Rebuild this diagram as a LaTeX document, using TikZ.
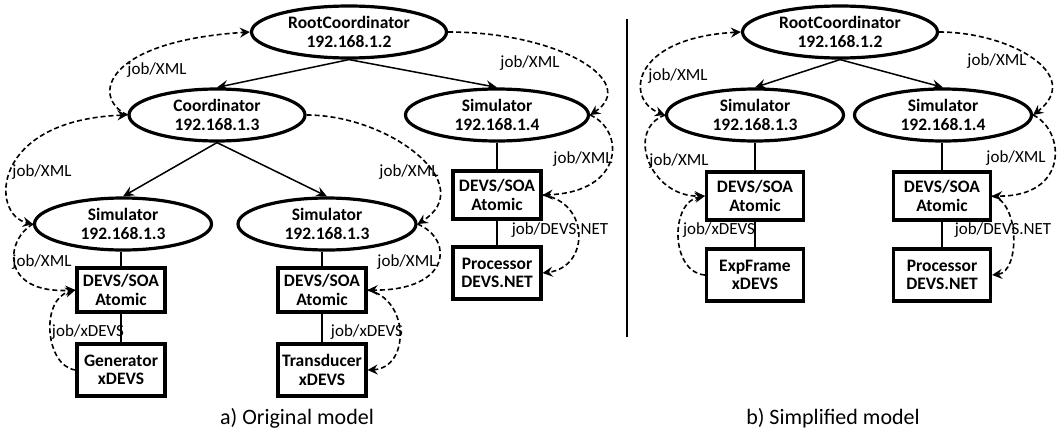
\documentclass[tikz,border=0pt]{standalone}
\usepackage{fontspec}
\setmainfont{Carlito}
\usetikzlibrary{arrows.meta,shapes.geometric}
\begin{document}
\begin{tikzpicture}[x=1pt,y=-1pt,
  nodefont/.style={font=\fontsize{17.5}{18.5}\selectfont\bfseries},
  ell/.style={draw, line width=3.2pt, ellipse, minimum width=#1, minimum height=52pt, inner sep=0pt, align=center, nodefont},
  ell/.default=178pt,
  bx/.style={draw, line width=3.2pt, rectangle, minimum width=88pt, minimum height=#1, inner sep=0pt, align=center, nodefont},
  bxw/.style={bx=#1, minimum width=97pt},
  lb/.style={font=\fontsize{17}{18}\selectfont, inner sep=0pt},
  captext/.style={font=\fontsize{22}{24}\selectfont, inner sep=0pt},
  dl/.style={line width=1.6pt, dash pattern=on 5pt off 3pt},
  da/.style={dl, -{Stealth[length=10pt,width=10pt,inset=3.5pt]}},
  dab/.style={dl, {Stealth[length=10pt,width=10pt,inset=3.5pt]}-{Stealth[length=10pt,width=10pt,inset=3.5pt]}},
  sa/.style={line width=1.5pt, -{Stealth[length=11pt,width=10pt,inset=4pt]}},
  vl/.style={line width=1.3pt}
]
\useasboundingbox (0,0) rectangle (1057,434);

% ---------- left: original model ----------
\node[ell=195pt] (RC1) at (349,32) {RootCoordinator\\192.168.1.2};
\node[ell=176pt] (Coord) at (217,115) {Coordinator\\192.168.1.3};
\node[ell=183pt] (Sim4L) at (497,115) {Simulator\\192.168.1.4};
\node[ell=177pt] (SimA) at (123,224) {Simulator\\192.168.1.3};
\node[ell=178pt] (SimB) at (327,224) {Simulator\\192.168.1.3};
\node[bx=44pt] (AtomA) at (121,290) {DEVS/SOA\\Atomic};
\node[bx=52pt] (Gen) at (121,370) {Generator\\xDEVS};
\node[bx=44pt] (AtomB) at (322,290) {DEVS/SOA\\Atomic};
\node[bx=52pt] (Trans) at (322,370) {Transducer\\xDEVS};
\node[bx=48pt] (AtomC) at (497,195) {DEVS/SOA\\Atomic};
\node[bx=52pt] (Proc) at (497,273) {Processor\\DEVS.NET};

\draw[sa] (RC1.south) -- (Coord.north);
\draw[sa] (RC1.south) -- (Sim4L.north);
\draw[sa] (Coord.south) -- (SimA.north);
\draw[sa] (Coord.south) -- (SimB.north);

\draw[vl] (AtomA.north) -- (AtomA.north |- SimA.south);
\draw[vl] (AtomA.south) -- (Gen.north);
\draw[vl] (AtomB.north) -- (AtomB.north |- SimB.south);
\draw[vl] (AtomB.south) -- (Trans.north);
\draw[vl] (AtomC.north) -- (AtomC.north |- Sim4L.south);
\draw[vl] (AtomC.south) -- (Proc.north);

\draw[da] (Coord.west) .. controls (90,97) and (105,41) .. (RC1.west);
\draw[dab] (Coord.west) .. controls (-10,120) and (-10,215) .. (SimA.west);
\draw[da] (SimA.west) .. controls (5,240) and (0,294) .. (AtomA.west);
\draw[da] (Gen.west) .. controls (45,366) and (40,299) .. (AtomA.west);
\draw[da] (RC1.east) .. controls (560,32) and (640,82) .. (Sim4L.east);
\draw[da] (Coord.east) .. controls (390,115) and (480,185) .. (SimB.east);
\draw[da] (SimB.east) .. controls (455,240) and (450,291) .. (AtomB.east);
\draw[da] (AtomB.east) .. controls (410,299) and (410,368) .. (Trans.east);
\draw[da] (Sim4L.east) .. controls (625,130) and (625,192) .. (AtomC.east);
\draw[da] (AtomC.east) .. controls (590,202) and (590,267) .. (Proc.east);

\node[lb] (l1) at (157,70) {job/XML};
\node[lb] (l2) at (530,63) {job/XML};
\node[lb] (l3) at (42,172) {job/XML};
\node[lb] (l4) at (409,172) {job/XML};
\node[lb] (l5) at (42,262) {job/XML};
\node[lb] (l6) at (407,262) {job/XML};
\node[lb] (l7) at (88,332) {job/xDEVS};
\node[lb] (l8) at (367,332) {job/xDEVS};
\node[lb] (l9) at (583,159) {job/XML};
\node[lb] (l10) at (560,230) {job/DEVS.NET};

\node[captext] (capa) at (297,418) {a) Original model};

% ---------- divider ----------
\coordinate (d1) at (627,19);
\coordinate (d2) at (627,337);
\draw[line width=1.6pt] (d1) -- (d2);

% ---------- right: simplified model ----------
\node[ell=195pt] (RC2) at (840,32) {RootCoordinator\\192.168.1.2};
\node[ell=177pt] (SimR3) at (755,115) {Simulator\\192.168.1.3};
\node[ell=177pt] (SimR4) at (943,115) {Simulator\\192.168.1.4};
\node[bxw=48pt] (AtomR3) at (755,196) {DEVS/SOA\\Atomic};
\node[bxw=52pt] (ExpF) at (755,275) {ExpFrame\\xDEVS};
\node[bxw=48pt] (AtomR4) at (942,196) {DEVS/SOA\\Atomic};
\node[bxw=52pt] (ProcR) at (942,275) {Processor\\DEVS.NET};

\draw[sa] (RC2.south) -- (SimR3.north);
\draw[sa] (RC2.south) -- (SimR4.north);

\draw[vl] (AtomR3.north) -- (AtomR3.north |- SimR3.south);
\draw[vl] (AtomR3.south) -- (ExpF.north);
\draw[vl] (AtomR4.north) -- (AtomR4.north |- SimR4.south);
\draw[vl] (AtomR4.south) -- (ProcR.north);

\draw[dab] (RC2.west) .. controls (630,38) and (625,100) .. (SimR3.west);
\draw[da] (SimR3.west) .. controls (625,130) and (650,197) .. (AtomR3.west);
\draw[da] (ExpF.west) .. controls (670,272) and (670,202) .. (AtomR3.west);
\draw[da] (RC2.east) .. controls (1010,32) and (1085,75) .. (SimR4.east);
\draw[da] (SimR4.east) .. controls (1065,130) and (1070,197) .. (AtomR4.east);
\draw[da] (AtomR4.east) .. controls (1020,202) and (1020,272) .. (ProcR.east);

\node[lb] (r1) at (678,76) {job/XML};
\node[lb] (r2) at (997,61) {job/XML};
\node[lb] (r3) at (679,161) {job/XML};
\node[lb] (r4) at (1016,158) {job/XML};
\node[lb] (r5) at (719,230) {job/xDEVS};
\node[lb] (r6) at (1003,230) {job/DEVS.NET};

\node[captext] (capb) at (833,418) {b) Simplified model};
\end{tikzpicture}
\end{document}
